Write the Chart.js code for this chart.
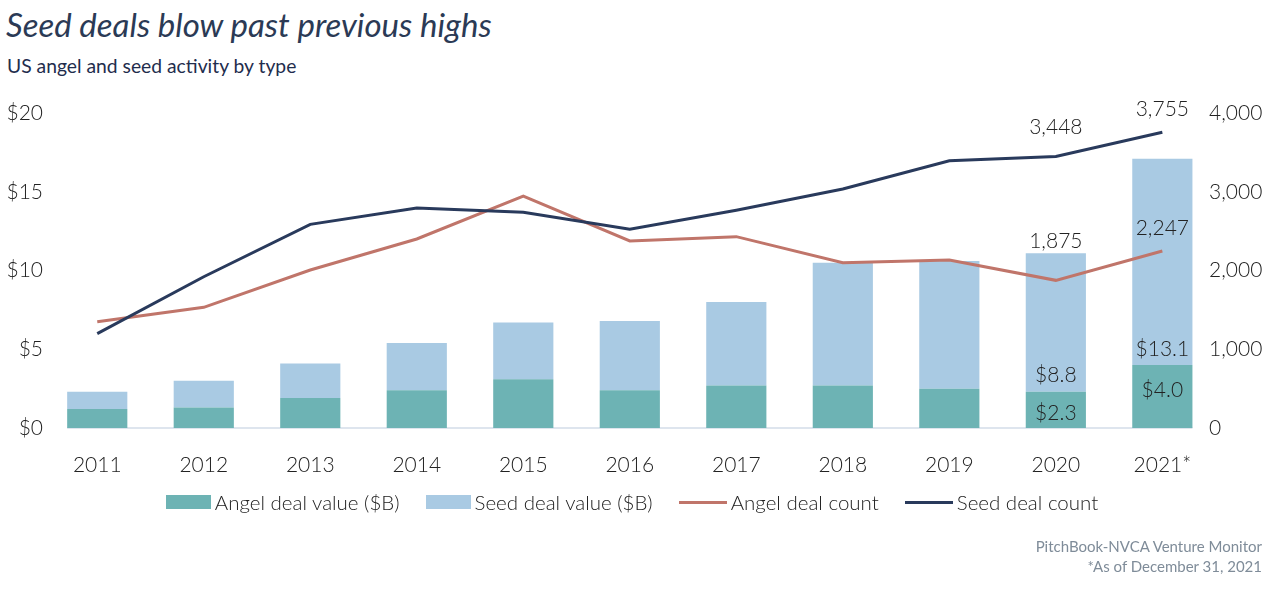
<!DOCTYPE html>
<html>
<head>
<meta charset="utf-8">
<script src="https://cdn.jsdelivr.net/npm/chart.js@4.4.0/dist/chart.umd.min.js"></script>
<style>
	body { margin: 0; width: 1280px; height: 592px; overflow: hidden; background: #ffffff; font-family: Lato, sans-serif; position: relative; }
	#chart-title { position: absolute; left: 6px; top: 5px; font-size: 33px; line-height: 1.2; font-style: italic; color: #2b3a55; white-space: nowrap; }
	#chart-subtitle { position: absolute; left: 7px; top: 54px; font-size: 19.3px; line-height: 1.2; color: #1f2d4d; white-space: nowrap; }
	#chart-box { position: absolute; left: 0; top: 0; width: 1280px; height: 592px; }
	#chart-legend { position: absolute; left: 0; top: 490px; width: 1264px; height: 24px; display: flex; justify-content: center; align-items: center; }
	.legend-item { display: flex; align-items: center; margin: 0 13px; font-size: 20.5px; font-weight: 300; color: #222222; line-height: 24px; white-space: nowrap; }
	.legend-swatch { margin-right: 4px; }
	#chart-source { position: absolute; right: 18px; top: 536px; text-align: right; font-size: 15px; line-height: 20px; color: #7f8c99; white-space: nowrap; }
</style>
</head>
<body>
<div id="chart-title">Seed deals blow past previous highs</div>
<div id="chart-subtitle">US angel and seed activity by type</div>
<div id="chart-box"><canvas id="deal-chart"></canvas></div>
<div id="chart-legend"></div>
<div id="chart-source">PitchBook-NVCA Venture Monitor<br>*As of December 31, 2021</div>
<script>
var years = ["2011", "2012", "2013", "2014", "2015", "2016", "2017", "2018", "2019", "2020", "2021*"];
var angelDealValue = [1.2, 1.3, 1.9, 2.4, 3.1, 2.4, 2.7, 2.7, 2.5, 2.3, 4.0];
var seedDealValue = [1.1, 1.7, 2.2, 3.0, 3.6, 4.4, 5.3, 7.8, 8.1, 8.8, 13.1];
var angelDealCount = [1350, 1532, 2006, 2400, 2946, 2375, 2430, 2099, 2133, 1875, 2247];
var seedDealCount = [1198, 1921, 2586, 2794, 2739, 2523, 2764, 3035, 3394, 3448, 3755];
var valueTicks = [0, 5, 10, 15, 20];
var countTicks = [0, 1000, 2000, 3000, 4000];

var colorAngelValue = "#6db3b4";
var colorSeedValue = "#a9cae3";
var colorAngelCount = "#c0756a";
var colorSeedCount = "#293a5c";

function formatMoney(v) { return "$" + v.toFixed(1); }
function formatCount(v) { return v.toLocaleString("en-US"); }

// which points get a value label, and where it sits relative to the mark
var valueLabels = [
	{ dataset: 3, index: 9, anchor: "top", dy: -29, format: formatCount },
	{ dataset: 3, index: 10, anchor: "top", dy: -23, format: formatCount },
	{ dataset: 2, index: 9, anchor: "top", dy: -39, format: formatCount },
	{ dataset: 2, index: 10, anchor: "top", dy: -23, format: formatCount },
	{ dataset: 1, index: 9, anchor: "base", dy: -17, format: formatMoney },
	{ dataset: 1, index: 10, anchor: "base", dy: -16, format: formatMoney },
	{ dataset: 0, index: 9, anchor: "top", dy: 21, format: formatMoney },
	{ dataset: 0, index: 10, anchor: "top", dy: 25, format: formatMoney }
];

var tickFont = { family: "Lato", size: 21, weight: 300 };

var baselinePlugin = {
	id: "baseline",
	beforeDatasetsDraw: function(chart) {
		var bars = chart.getDatasetMeta(0).data;
		var first = bars[0], last = bars[bars.length - 1];
		var ctx = chart.ctx;
		var y = chart.scales.y.getPixelForValue(0);
		ctx.save();
		ctx.strokeStyle = "#d3dce8";
		ctx.lineWidth = 1.5;
		ctx.beginPath();
		ctx.moveTo(first.x - first.width / 2, y);
		ctx.lineTo(last.x + last.width / 2, y);
		ctx.stroke();
		ctx.restore();
	}
};

// the right axis labels sit a little inside the plot edge, which the scale itself would clip
var rightTickPlugin = {
	id: "rightTicks",
	afterDraw: function(chart) {
		var scale = chart.scales.y1;
		var ctx = chart.ctx;
		ctx.save();
		ctx.font = tickFont.weight + " " + tickFont.size + "px " + tickFont.family;
		ctx.fillStyle = "#222222";
		ctx.textAlign = "left";
		ctx.textBaseline = "middle";
		scale.ticks.forEach(function(tick) {
			ctx.fillText(formatCount(tick.value), scale.left - 6.6, scale.getPixelForValue(tick.value));
		});
		ctx.restore();
	}
};

var valueLabelPlugin = {
	id: "valueLabels",
	afterDatasetsDraw: function(chart) {
		var ctx = chart.ctx;
		ctx.save();
		ctx.font = "300 21px Lato";
		ctx.fillStyle = "#222222";
		ctx.textAlign = "center";
		ctx.textBaseline = "middle";
		valueLabels.forEach(function(label) {
			var el = chart.getDatasetMeta(label.dataset).data[label.index];
			var value = chart.data.datasets[label.dataset].data[label.index];
			var y = (label.anchor === "base" ? el.base : el.y) + label.dy;
			ctx.fillText(label.format(value), el.x, y);
		});
		ctx.restore();
	}
};

var dealChart = new Chart(document.getElementById("deal-chart"), {
	type: "bar",
	data: {
		labels: years,
		datasets: [
			{ label: "Angel deal value ($B)", data: angelDealValue, backgroundColor: colorAngelValue, yAxisID: "y", stack: "value", order: 3, barPercentage: 0.565, categoryPercentage: 1 },
			{ label: "Seed deal value ($B)", data: seedDealValue, backgroundColor: colorSeedValue, yAxisID: "y", stack: "value", order: 3, barPercentage: 0.565, categoryPercentage: 1 },
			{ type: "line", label: "Angel deal count", data: angelDealCount, borderColor: colorAngelCount, backgroundColor: colorAngelCount, borderWidth: 3, pointRadius: 0, tension: 0, yAxisID: "y1", order: 2 },
			{ type: "line", label: "Seed deal count", data: seedDealCount, borderColor: colorSeedCount, backgroundColor: colorSeedCount, borderWidth: 3, pointRadius: 0, tension: 0, yAxisID: "y1", order: 1 }
		]
	},
	options: {
		responsive: true,
		maintainAspectRatio: false,
		animation: false,
		layout: { padding: { top: 113, left: 0, right: 0, bottom: 0 } },
		plugins: {
			legend: { display: false },
			tooltip: { enabled: false }
		},
		scales: {
			x: {
				stacked: true,
				grid: { display: false, drawTicks: false },
				border: { display: false },
				ticks: { font: tickFont, color: "#222222", padding: 25, maxRotation: 0 },
				afterFit: function(scale) { scale.height = 164; }
			},
			y: {
				position: "left",
				stacked: true,
				min: 0,
				max: 20,
				grid: { display: false, drawTicks: false },
				border: { display: false },
				afterBuildTicks: function(scale) { scale.ticks = valueTicks.map(function(v) { return { value: v }; }); },
				ticks: { font: tickFont, color: "#222222", padding: 1, callback: function(v) { return "$" + v; } },
				afterFit: function(scale) { scale.width = 44; }
			},
			y1: {
				position: "right",
				min: 0,
				max: 4000,
				grid: { display: false, drawTicks: false },
				border: { display: false },
				afterBuildTicks: function(scale) { scale.ticks = countTicks.map(function(v) { return { value: v }; }); },
				ticks: { display: false },
				afterFit: function(scale) { scale.width = 64.4; }
			}
		}
	},
	plugins: [baselinePlugin, valueLabelPlugin, rightTickPlugin]
});

function buildLegend(chart) {
	var legendBox = document.getElementById("chart-legend");
	chart.data.datasets.forEach(function(ds) {
		var item = document.createElement("div");
		var swatch = document.createElement("span");
		var text = document.createElement("span");
		item.className = "legend-item";
		swatch.className = "legend-swatch";
		swatch.style.display = "inline-block";
		swatch.style.background = ds.type === "line" ? ds.borderColor : ds.backgroundColor;
		swatch.style.width = ds.type === "line" ? "48px" : "45px";
		swatch.style.height = ds.type === "line" ? "3px" : "14px";
		text.innerText = ds.label;
		item.appendChild(swatch);
		item.appendChild(text);
		legendBox.appendChild(item);
	});
}

buildLegend(dealChart);
</script>
</body>
</html>
